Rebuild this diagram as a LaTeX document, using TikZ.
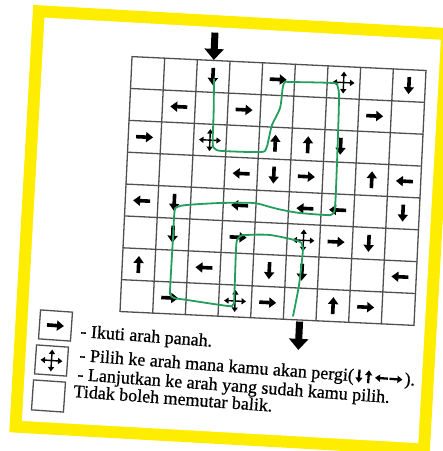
\documentclass[tikz,border=0pt]{standalone}
\usepackage{fontspec}
\setmainfont{Liberation Serif}[UprightFeatures={FakeBold=0.7}]
\usetikzlibrary{arrows.meta}
\definecolor{cardyellow}{RGB}{255,237,0}
\definecolor{pathgreen}{RGB}{36,158,92}
\definecolor{gridgray}{RGB}{80,80,80}
\begin{document}
\begin{tikzpicture}[x=1pt,y=-1pt,
  gridline/.style={draw=gridgray, line width=1.3pt, line cap=round},
  bigarrow/.style={line width=7pt, -{Triangle[length=11pt,width=19pt]}},
  cellarrow/.style={line width=3.6pt, -{Triangle[length=7pt,width=10pt]}},
  textarrow/.style={line width=2.3pt, -{Triangle[length=5pt,width=7pt]}},
  crossarm/.style={line width=1.4pt, -{Triangle[length=4.5pt,width=6pt]}},
  greenpath/.style={draw=pathgreen, line width=1.8pt, line cap=round, line join=round},
  legendtext/.style={anchor=base west, inner sep=0pt, rotate=-4.2, font=\fontsize{18}{20}\selectfont}
]
\useasboundingbox (0,0) rectangle (443,451);
\clip (0,0) rectangle (443,451);
\fill[white] (0,0) rectangle (443,451);

% yellow frame
\begin{scope}[shift={(225,228)}, rotate=-3.2]
  \fill[cardyellow] (-204,-212) rectangle (217,216);
  \fill[white] (-192,-200) rectangle (205,204);
\end{scope}

% grid
\begin{scope}[shift={(273,191)}, rotate=-2.7]
  \foreach \i in {0,...,9}
    \draw[gridline] ({-147.15+\i*32.7},-127.6) -- ++(0,255.2);
  \foreach \j in {0,...,8}
    \draw[gridline] (-147.15,{-127.6+\j*31.9}) -- ++(294.3,0);
  \foreach \c in {1,...,9}
    \foreach \r in {1,...,8}
      \coordinate (c\c-\r) at ({(\c-5)*32.7},{(\r-4.5)*31.9});
  % single arrows
  \foreach \c/\r/\a in {3/1/90, 5/1/0, 9/1/90, 2/2/180, 4/2/0, 8/2/0,
      1/3/0, 5/3/270, 6/3/270, 7/3/90, 4/4/180, 5/4/90, 6/4/0, 8/4/270, 9/4/180,
      1/5/180, 2/5/90, 4/5/180, 6/5/180, 7/5/180, 9/5/90,
      2/6/90, 4/6/0, 7/6/0, 8/6/90, 1/7/270, 3/7/180, 5/7/90, 6/7/90, 9/7/180,
      2/8/0, 5/8/0, 7/8/270, 8/8/0}
    \draw[cellarrow] ({(\c-5)*32.7-8.5*cos(\a)},{(\r-4.5)*31.9-8.5*sin(\a)}) -- ++(\a:17);
  % four-way crosses
  \foreach \p in {c7-1, c3-3, c6-6, c4-8}
    \foreach \a in {0,90,180,270}
      \draw[crossarm] (\p) -- ++(\a:11);
  % entry and exit
  \coordinate (entry) at (-65.4,-155.5);
  \coordinate (entrytip) at (-65.4,-128.2);
  \coordinate (exit) at (32.7,129.2);
  \coordinate (exittip) at (32.7,157.5);
  \draw[bigarrow] (entry) -- (entrytip);
  \draw[bigarrow] (exit) -- (exittip);
  % green route
  \draw[greenpath] plot[smooth, tension=0.5] coordinates {
    (-64.2,-109.1) (-63,-75) (-62.5,-45) (-60,-39.5) (-52.8,-37.6) (-14.8,-38.3)
    (-9,-41.5) (-7,-50) (-4.1,-65.9) (3.1,-83.2) (4.9,-104) (7,-109.5) (11.8,-109.7)
    (54.8,-110.7) (59.5,-108) (61.6,-94) (62.6,-31) (62.7,13.1) (60.1,20.5) (54,21.5)
    (28,20.7) (10,18.5) (-2.2,16.1) (-19.4,12.9) (-52.4,14.5) (-85.2,18.0) (-95,20.5)
    (-97.4,25) (-97.7,50.7) (-98.2,100) (-97.9,108) (-94,111.5) (-80.8,112.9)
    (-39.5,117.0) (-35,115.5) (-33.7,110) (-34.2,60.7) (-33.5,50.5) (-30,46.5)
    (-25.9,45.3) (-0.9,44.1) (27.3,48.8) (31.8,53) (32.6,60) (30.4,92.7) (25.9,123.9)};
\end{scope}

% legend boxes
\begin{scope}[shift={(55.5,325.5)}, rotate=-4]
  \draw[gridline] (-16,-14.5) rectangle (16,14.5);
  \coordinate (lg1) at (0,0);
  \draw[cellarrow] (-8.5,0) -- (8.5,0);
\end{scope}
\begin{scope}[shift={(51.5,360.5)}, rotate=-4]
  \draw[gridline] (-16,-14.5) rectangle (16,14.5);
  \coordinate (lg2) at (0,0);
  \foreach \a in {0,90,180,270}
    \draw[crossarm] (lg2) -- ++(\a:11);
\end{scope}
\begin{scope}[shift={(48.5,396)}, rotate=-4]
  \draw[gridline] (-16,-15) rectangle (16,15);
\end{scope}

% legend text
\node[legendtext] (t1) at (80,337) {- Ikuti arah panah.};
\node[legendtext] (t2) at (79,361) {- Pilih ke arah mana kamu akan pergi(};
\begin{scope}[shift={(t2.base east)}, rotate=-4.2]
  \coordinate (ta) at (0,0);
  \draw[textarrow] (5,-12) -- (5,1);
  \draw[textarrow] (14.5,1) -- (14.5,-12);
  \draw[textarrow] (34,-5) -- (21,-5);
  \draw[textarrow] (35.5,-5) -- (48.5,-5);
  \node[legendtext, rotate=0] (t2b) at (50.5,0) {).};
\end{scope}
\node[legendtext] (t3) at (77,380) {- Lanjutkan ke arah yang sudah kamu pilih.};
\node[legendtext] (t4) at (73,397) {Tidak boleh memutar balik.};
\end{tikzpicture}
\end{document}
